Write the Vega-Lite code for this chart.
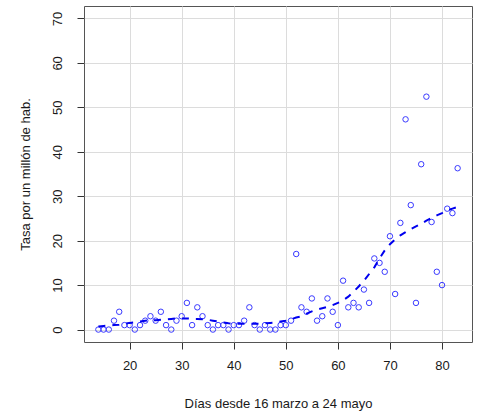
{
  "$schema": "https://vega.github.io/schema/vega-lite/v6.json",
  "width": 388,
  "height": 336,
  "autosize": {"type": "none"},
  "padding": {"left": 84, "top": 6, "right": 7, "bottom": 73},
  "background": "white",
  "config": {
    "font": "Liberation Sans",
    "view": {"stroke": "#555555", "strokeWidth": 1},
    "axis": {
      "labelFont": "Liberation Sans",
      "titleFont": "Liberation Sans",
      "labelFontSize": 13,
      "titleFontSize": 13,
      "titleFontWeight": "normal",
      "labelColor": "#1a1a1a",
      "titleColor": "#1a1a1a",
      "tickColor": "#333333",
      "tickSize": 7,
      "gridColor": "#dcdcdc",
      "gridWidth": 1,
      "domain": false
    }
  },
  "datasets": {
    "pts": [
      {"dia": 14, "tasa": 0}, {"dia": 15, "tasa": 0}, {"dia": 16, "tasa": 0}, {"dia": 17, "tasa": 2},
      {"dia": 18, "tasa": 4}, {"dia": 19, "tasa": 1}, {"dia": 20, "tasa": 1}, {"dia": 21, "tasa": 0},
      {"dia": 22, "tasa": 1}, {"dia": 23, "tasa": 2}, {"dia": 24, "tasa": 3}, {"dia": 25, "tasa": 2},
      {"dia": 26, "tasa": 4}, {"dia": 27, "tasa": 1}, {"dia": 28, "tasa": 0}, {"dia": 29, "tasa": 2},
      {"dia": 30, "tasa": 3}, {"dia": 31, "tasa": 6}, {"dia": 32, "tasa": 1}, {"dia": 33, "tasa": 5},
      {"dia": 34, "tasa": 3}, {"dia": 35, "tasa": 1}, {"dia": 36, "tasa": 0}, {"dia": 37, "tasa": 1},
      {"dia": 38, "tasa": 1}, {"dia": 39, "tasa": 0}, {"dia": 40, "tasa": 1}, {"dia": 41, "tasa": 1},
      {"dia": 42, "tasa": 2}, {"dia": 43, "tasa": 5}, {"dia": 44, "tasa": 1}, {"dia": 45, "tasa": 0},
      {"dia": 46, "tasa": 1}, {"dia": 47, "tasa": 0}, {"dia": 48, "tasa": 0}, {"dia": 49, "tasa": 1},
      {"dia": 50, "tasa": 1}, {"dia": 51, "tasa": 2}, {"dia": 52, "tasa": 17}, {"dia": 53, "tasa": 5},
      {"dia": 54, "tasa": 4}, {"dia": 55, "tasa": 7}, {"dia": 56, "tasa": 2}, {"dia": 57, "tasa": 3},
      {"dia": 58, "tasa": 7}, {"dia": 59, "tasa": 4}, {"dia": 60, "tasa": 1}, {"dia": 61, "tasa": 11},
      {"dia": 62, "tasa": 5}, {"dia": 63, "tasa": 6}, {"dia": 64, "tasa": 5}, {"dia": 65, "tasa": 9},
      {"dia": 66, "tasa": 6}, {"dia": 67, "tasa": 16}, {"dia": 68, "tasa": 15}, {"dia": 69, "tasa": 13},
      {"dia": 70, "tasa": 21}, {"dia": 71, "tasa": 8}, {"dia": 72, "tasa": 24}, {"dia": 73, "tasa": 47.3},
      {"dia": 74, "tasa": 28}, {"dia": 75, "tasa": 6}, {"dia": 76, "tasa": 37.2}, {"dia": 77, "tasa": 52.4},
      {"dia": 78, "tasa": 24.2}, {"dia": 79, "tasa": 13}, {"dia": 80, "tasa": 10}, {"dia": 81, "tasa": 27.2},
      {"dia": 82, "tasa": 26.2}, {"dia": 83, "tasa": 36.3}
    ],
    "fit": [
      {"dia": 14, "tasa": 0.7}, {"dia": 15, "tasa": 0.8}, {"dia": 16, "tasa": 0.9}, {"dia": 17, "tasa": 1.0},
      {"dia": 18, "tasa": 1.1}, {"dia": 19, "tasa": 1.3}, {"dia": 20, "tasa": 1.5}, {"dia": 21, "tasa": 1.6},
      {"dia": 22, "tasa": 1.8}, {"dia": 23, "tasa": 2.0}, {"dia": 24, "tasa": 2.1}, {"dia": 25, "tasa": 2.1},
      {"dia": 26, "tasa": 2.2}, {"dia": 27, "tasa": 2.3}, {"dia": 28, "tasa": 2.4}, {"dia": 29, "tasa": 2.5},
      {"dia": 30, "tasa": 2.5}, {"dia": 31, "tasa": 2.5}, {"dia": 32, "tasa": 2.4}, {"dia": 33, "tasa": 2.4},
      {"dia": 34, "tasa": 2.3}, {"dia": 35, "tasa": 2.2}, {"dia": 36, "tasa": 2.0}, {"dia": 37, "tasa": 1.8},
      {"dia": 38, "tasa": 1.6}, {"dia": 39, "tasa": 1.4}, {"dia": 40, "tasa": 1.3}, {"dia": 41, "tasa": 1.3},
      {"dia": 42, "tasa": 1.3}, {"dia": 43, "tasa": 1.3}, {"dia": 44, "tasa": 1.3}, {"dia": 45, "tasa": 1.3},
      {"dia": 46, "tasa": 1.4}, {"dia": 47, "tasa": 1.5}, {"dia": 48, "tasa": 1.6}, {"dia": 49, "tasa": 1.8},
      {"dia": 50, "tasa": 2.0}, {"dia": 51, "tasa": 2.3}, {"dia": 52, "tasa": 2.7}, {"dia": 53, "tasa": 3.0},
      {"dia": 54, "tasa": 3.6}, {"dia": 55, "tasa": 4.1}, {"dia": 56, "tasa": 4.5}, {"dia": 57, "tasa": 4.8},
      {"dia": 58, "tasa": 5.1}, {"dia": 59, "tasa": 5.5}, {"dia": 60, "tasa": 6.0}, {"dia": 61, "tasa": 6.6},
      {"dia": 62, "tasa": 7.4}, {"dia": 63, "tasa": 8.5}, {"dia": 64, "tasa": 9.7}, {"dia": 65, "tasa": 11.0},
      {"dia": 66, "tasa": 12.5}, {"dia": 67, "tasa": 14.0}, {"dia": 68, "tasa": 16.0}, {"dia": 69, "tasa": 17.8},
      {"dia": 70, "tasa": 19.2}, {"dia": 71, "tasa": 20.3}, {"dia": 72, "tasa": 21.2}, {"dia": 73, "tasa": 21.9},
      {"dia": 74, "tasa": 22.6}, {"dia": 75, "tasa": 23.2}, {"dia": 76, "tasa": 23.8}, {"dia": 77, "tasa": 24.5},
      {"dia": 78, "tasa": 25.1}, {"dia": 79, "tasa": 25.7}, {"dia": 80, "tasa": 26.2}, {"dia": 81, "tasa": 26.8},
      {"dia": 82, "tasa": 27.2}, {"dia": 83, "tasa": 27.6}
    ]
  },
  "encoding": {
    "x": {
      "field": "dia",
      "type": "quantitative",
      "scale": {"domain": [11.24, 85.76], "nice": false, "zero": false},
      "axis": {
        "values": [20, 30, 40, 50, 60, 70, 80],
        "title": "Días desde 16 marzo a 24 mayo",
        "labelPadding": 10,
        "titleY": 61,
        "titleBaseline": "middle",
        "labelFlush": false
      }
    },
    "y": {
      "field": "tasa",
      "type": "quantitative",
      "scale": {"domain": [-2.8, 72.8], "nice": false, "zero": false},
      "axis": {
        "values": [0, 10, 20, 30, 40, 50, 60, 70],
        "title": "Tasa por un millón de hab.",
        "labelAngle": -90,
        "labelAlign": "center",
        "labelBaseline": "middle",
        "labelPadding": 20,
        "labelFlush": false,
        "titleAngle": -90,
        "titleX": -59,
        "titleY": 168,
        "titleAlign": "center",
        "titleBaseline": "middle"
      }
    }
  },
  "layer": [
    {
      "data": {"name": "pts"},
      "mark": {"type": "point", "shape": "circle", "filled": false, "color": "#3a3aff", "size": 30, "strokeWidth": 1, "opacity": 1}
    },
    {
      "data": {"name": "fit"},
      "mark": {"type": "line", "color": "#0000ee", "strokeWidth": 2, "strokeDash": [7, 7]}
    }
  ]
}
